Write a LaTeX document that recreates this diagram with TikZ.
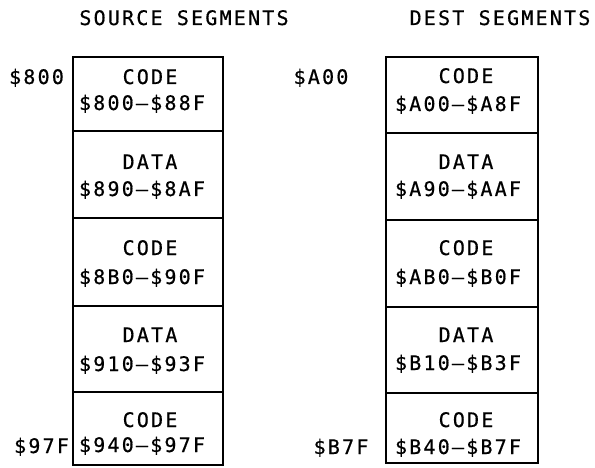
\documentclass[tikz,border=0pt]{standalone}
\usepackage{fontspec}
\newfontfamily\dfont[LetterSpace=11,FakeBold=0.6]{DejaVu Sans Mono}
\begin{document}
\begin{tikzpicture}[x=1pt,y=-1pt,
  seg/.style={draw, line width=1.9pt, anchor=north, inner sep=0pt, outer sep=0pt},
  lseg/.style={seg, minimum width=150pt},
  rseg/.style={seg, minimum width=152pt},
  txt/.style={font=\dfont\fontsize{20}{22}\selectfont, text height=14pt, text depth=0pt, inner sep=0pt, anchor=center}]
\useasboundingbox[fill=white] (0,0) rectangle (595,468);
% headers
\node[txt] (h1) at (184,18) {SOURCE SEGMENTS};
\node[txt] (h2) at (500,18) {DEST SEGMENTS};
% left column
\node[lseg, minimum height=74pt] (l1) at (148,57) {};
\node[lseg, minimum height=87pt] (l2) at (l1.south) {};
\node[lseg, minimum height=88pt] (l3) at (l2.south) {};
\node[lseg, minimum height=86pt] (l4) at (l3.south) {};
\node[lseg, minimum height=73pt] (l5) at (l4.south) {};
% right column
\node[rseg, minimum height=76pt] (r1) at (462,57) {};
\node[rseg, minimum height=87pt] (r2) at (r1.south) {};
\node[rseg, minimum height=87pt] (r3) at (r2.south) {};
\node[rseg, minimum height=86pt] (r4) at (r3.south) {};
\node[rseg, minimum height=70pt] (r5) at (r4.south) {};
% left texts
\node[txt] (l1a) at (150,77) {CODE};
\node[txt] (l1b) at (142,103) {\$800–\$88F};
\node[txt] (l2a) at (150,162) {DATA};
\node[txt] (l2b) at (142,189) {\$890–\$8AF};
\node[txt] (l3a) at (150,248) {CODE};
\node[txt] (l3b) at (142,277) {\$8B0–\$90F};
\node[txt] (l4a) at (150,335) {DATA};
\node[txt] (l4b) at (142,364) {\$910–\$93F};
\node[txt] (l5a) at (150,420) {CODE};
\node[txt] (l5b) at (142,445) {\$940–\$97F};
% right texts
\node[txt] (r1a) at (466,76) {CODE};
\node[txt] (r1b) at (458,104) {\$A00–\$A8F};
\node[txt] (r2a) at (466,162) {DATA};
\node[txt] (r2b) at (458,189) {\$A90–\$AAF};
\node[txt] (r3a) at (466,248) {CODE};
\node[txt] (r3b) at (458,277) {\$AB0–\$B0F};
\node[txt] (r4a) at (466,335) {DATA};
\node[txt] (r4b) at (458,363) {\$B10–\$B3F};
\node[txt] (r5a) at (466,420) {CODE};
\node[txt] (r5b) at (458,447) {\$B40–\$B7F};
% address labels
\node[txt] (a1) at (36.5,77) {\$800};
\node[txt] (a2) at (321,77) {\$A00};
\node[txt] (a3) at (41.5,446) {\$97F};
\node[txt] (a4) at (341,447) {\$B7F};
\end{tikzpicture}
\end{document}
